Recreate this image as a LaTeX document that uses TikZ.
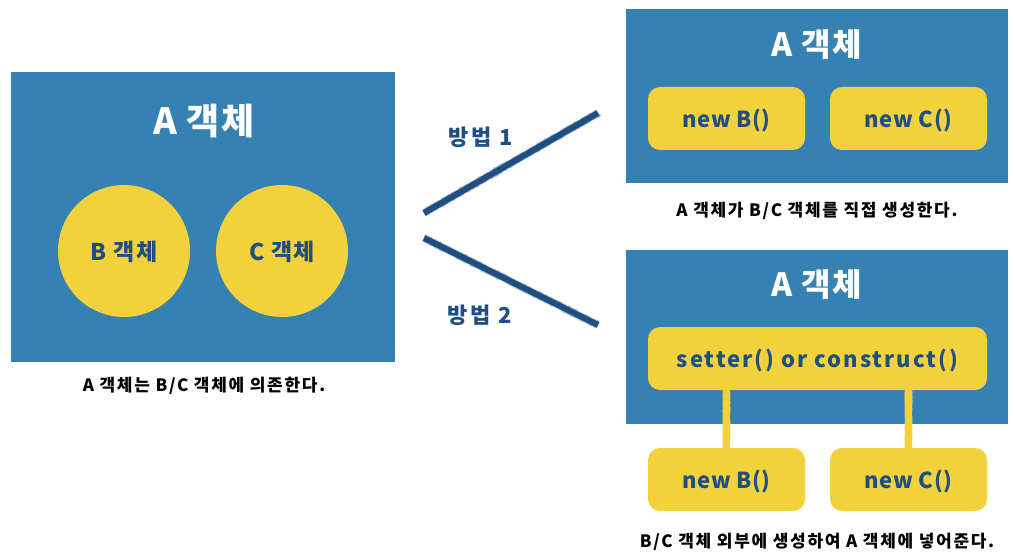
\documentclass[tikz,border=0pt]{standalone}
\usepackage{fontspec}
\setmainfont{Noto Sans CJK KR}
\newfontfamily\fntcap{Noto Sans CJK KR}[LetterSpace=10]
\newfontfamily\fntmeth{Noto Sans CJK KR}[LetterSpace=12]
\newfontfamily\fnttit{Noto Sans CJK KR}[LetterSpace=5]
\newfontfamily\fntybox{Noto Sans CJK KR}[LetterSpace=3]
\newfontfamily\fntset{Noto Sans CJK KR}[LetterSpace=9]
\newfontfamily\fntcirc{Noto Sans CJK KR}[LetterSpace=6]
\usetikzlibrary{decorations.pathmorphing}
\definecolor{boxblue}{HTML}{3581B2}
\definecolor{boxyellow}{HTML}{F2D23C}
\definecolor{inkblue}{HTML}{1F4F82}
\tikzset{
  bluebox/.style={draw=none, fill=boxblue, minimum width=#1, inner sep=0pt},
  title/.style={text=white, font=\fnttit\bfseries\fontsize{32}{36}\selectfont},
  circ/.style={circle, fill=boxyellow, minimum size=132pt, inner sep=0pt, text depth=0pt, text=inkblue, font=\fntcirc\bfseries\fontsize{23}{26}\selectfont},
  ybox/.style={rounded corners=12pt, fill=boxyellow, minimum width=#1, minimum height=63pt, inner sep=0pt, text depth=0pt, text=inkblue, font=\fntybox\bfseries\fontsize{22}{25}\selectfont},
  caption/.style={text=black, font=\fntcap\bfseries\fontsize{17}{20}\selectfont},
  method/.style={text=inkblue, font=\fntmeth\bfseries\fontsize{22}{25}\selectfont},
  chalk/.style={draw=inkblue, line width=6pt, line cap=butt},
  chalkfuzz/.style={draw=inkblue, line width=7.5pt, opacity=0.45, decorate, decoration={random steps, segment length=1.5pt, amplitude=0.5pt}},
  ychalk/.style={draw=boxyellow, line width=6.5pt},
  ychalkfuzz/.style={draw=boxyellow, line width=8pt, opacity=0.45, decorate, decoration={random steps, segment length=1.5pt, amplitude=0.5pt}},
}
\begin{document}
\begin{tikzpicture}[x=1pt,y=-1pt]
\useasboundingbox (0,0) rectangle (1014,556);
% left
\node[bluebox=384pt, minimum height=290pt] (L) at (203,217) {};
\node[title, font=\fnttit\bfseries\fontsize{36}{40}\selectfont] (Lt) at (204,121) {A 객체};
\node[circ] (B) at (124,251) {B 객체};
\node[circ] (C) at (282,251) {C 객체};
\node[caption] (Lc) at (204,386) {A 객체는 B/C 객체에 의존한다.};
% top right
\node[bluebox=382pt, minimum height=174pt] (R1) at (817,96) {};
\node[title] (R1t) at (817,45) {A 객체};
\node[ybox=157pt] (nb1) at (726.5,118.5) {new B()};
\node[ybox=157pt] (nc1) at (908.5,118.5) {new C()};
\node[caption] (R1c) at (817,211) {A 객체가 B/C 객체를 직접 생성한다.};
% bottom right
\node[bluebox=382pt, minimum height=174pt] (R2) at (817,337) {};
\node[title] (R2t) at (817,285) {A 객체};
\node[ybox=339pt, font=\fntset\bfseries\fontsize{22}{25}\selectfont] (set) at (817.5,358.5) {setter() or construct()};
\node[ybox=157pt] (nb2) at (726.5,479.5) {new B()};
\node[ybox=157pt] (nc2) at (908.5,479.5) {new C()};
\node[caption] (R2c) at (817,542) {B/C 객체 외부에 생성하여 A 객체에 넣어준다.};
\draw[ychalkfuzz] (set.south -| nb2) -- (nb2.north);
\draw[ychalkfuzz] (set.south -| nc2) -- (nc2.north);
\draw[ychalk] (set.south -| nb2) -- (nb2.north);
\draw[ychalk] (set.south -| nc2) -- (nc2.north);
% methods
\coordinate (m1a) at (424,213);
\coordinate (m1b) at (598,113);
\coordinate (m2a) at (424,238);
\coordinate (m2b) at (598,325);
\draw[chalkfuzz] (m1a) -- (m1b);
\draw[chalkfuzz] (m2a) -- (m2b);
\draw[chalk] (m1a) -- (m1b);
\draw[chalk] (m2a) -- (m2b);
\node[method] (M1) at (481,137) {방법 1};
\node[method] (M2) at (480,315) {방법 2};
\end{tikzpicture}
\end{document}
